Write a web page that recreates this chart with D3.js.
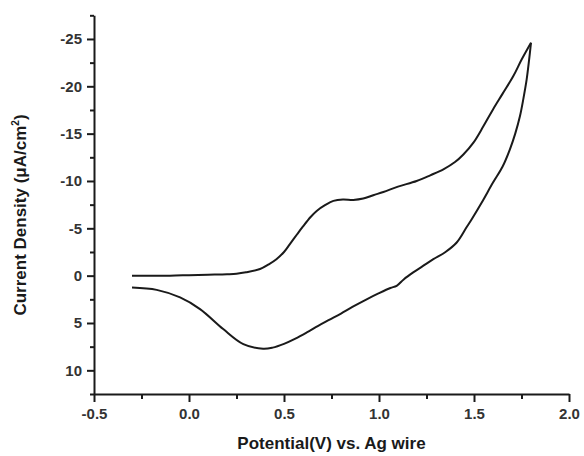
<!DOCTYPE html>
<html>
<head>
<meta charset="utf-8">
<script src="https://cdn.jsdelivr.net/npm/d3@7"></script>
<style>
  html, body { margin: 0; padding: 0; background: #fff; }
  svg { display: block; }
  text { font-family: "Liberation Sans", Arial, sans-serif; font-weight: bold; }
</style>
</head>
<body>
<svg id="chart" width="584" height="456"></svg>
<script>
// Cyclic voltammogram: potential (V vs. Ag wire) and current density (µA/cm²)
const forwardPotential = [-0.30, -0.20, -0.10, 0.00, 0.10, 0.20, 0.25, 0.30, 0.374, 0.42, 0.46, 0.50, 0.53, 0.57, 0.60, 0.64, 0.672, 0.72, 0.76, 0.81, 0.865, 0.917, 0.97, 1.023, 1.10, 1.198, 1.27, 1.339, 1.40, 1.444, 1.497, 1.55, 1.60, 1.65, 1.707, 1.75, 1.80];
const forwardCurrent   = [0.0, 0.0, 0.0, -0.05, -0.1, -0.15, -0.2, -0.35, -0.7, -1.2, -1.74, -2.5, -3.3, -4.4, -5.2, -6.2, -6.84, -7.5, -7.9, -8.05, -8.0, -8.14, -8.5, -8.84, -9.4, -10.0, -10.6, -11.23, -12.0, -12.8, -14.05, -15.8, -17.56, -19.2, -21.08, -22.8, -24.6];

const reversePotential = [1.80, 1.79, 1.777, 1.76, 1.742, 1.717, 1.689, 1.65, 1.60, 1.54, 1.488, 1.46, 1.409, 1.35, 1.286, 1.23, 1.18, 1.13, 1.093, 1.06, 1.00, 0.93, 0.86, 0.80, 0.74, 0.68, 0.62, 0.56, 0.50, 0.44, 0.39, 0.286, 0.18, 0.058, -0.047, -0.17, -0.30];
const reverseCurrent   = [-24.6, -22.8, -20.7, -18.7, -16.86, -15.0, -13.34, -11.5, -9.83, -7.7, -5.96, -5.08, -3.5, -2.5, -1.74, -1.0, -0.34, 0.4, 1.07, 1.3, 1.85, 2.55, 3.3, 4.0, 4.65, 5.3, 6.0, 6.65, 7.2, 7.6, 7.72, 7.23, 5.64, 3.53, 2.3, 1.5, 1.25];

const xTicks = [-0.5, 0.0, 0.5, 1.0, 1.5, 2.0];
const xMinorTicks = [-0.25, 0.25, 0.75, 1.25, 1.75];
const yTicks = [-25, -20, -15, -10, -5, 0, 5, 10];
const yMinorTicks = [-27.5, -22.5, -17.5, -12.5, -7.5, -2.5, 2.5, 7.5, 12.5];

const svg = d3.select("#chart");
const plotLeft = 94, plotRight = 569, plotTop = 15.3, plotBottom = 394;

const x = d3.scaleLinear().domain([-0.5, 2.0]).range([plotLeft, plotRight]);
// current axis runs negative-up
const y = d3.scaleLinear().domain([-27.5, 12.5]).range([plotTop, plotBottom]);

const axisColor = "#1a1a1a";
// plain hyphen-minus for negative tick labels
const fmtX = d => d3.format(".1f")(d).replace("\u2212", "-");
const fmtY = d => d3.format("d")(d).replace("\u2212", "-");

// x axis
svg.append("g").attr("transform", `translate(0,${plotBottom})`)
  .call(d3.axisBottom(x).tickValues(xTicks).tickFormat(fmtX).tickSizeInner(8).tickSizeOuter(0).tickPadding(6));
svg.append("g").attr("transform", `translate(0,${plotBottom})`)
  .call(d3.axisBottom(x).tickValues(xMinorTicks).tickFormat("").tickSizeInner(5).tickSizeOuter(0))
  .call(g => g.select(".domain").remove());

// y axis
svg.append("g").attr("transform", `translate(${plotLeft},0)`)
  .call(d3.axisLeft(y).tickValues(yTicks).tickFormat(fmtY).tickSizeInner(7).tickSizeOuter(0).tickPadding(5));
svg.append("g").attr("transform", `translate(${plotLeft},0)`)
  .call(d3.axisLeft(y).tickValues(yMinorTicks).tickFormat("").tickSizeInner(4).tickSizeOuter(0))
  .call(g => g.select(".domain").remove());

svg.selectAll(".domain").attr("stroke", axisColor).attr("stroke-width", 2);
svg.selectAll(".tick line").attr("stroke", axisColor).attr("stroke-width", 2);
svg.selectAll(".tick text").attr("fill", "#333").style("font-size", "15px")
  .style("font-family", "'Liberation Sans', Arial, sans-serif").style("font-weight", "bold");

// CV loop
const line = d3.line().x(d => x(d[0])).y(d => y(d[1])).curve(d3.curveCatmullRom.alpha(0.5));
const fwd = forwardPotential.map((v, i) => [v, forwardCurrent[i]]);
const rev = reversePotential.map((v, i) => [v, reverseCurrent[i]]);

svg.append("path").datum(fwd).attr("d", line)
  .attr("fill", "none").attr("stroke", "#1a1a1a").attr("stroke-width", 2).attr("stroke-linejoin", "round");
svg.append("path").datum(rev).attr("d", line)
  .attr("fill", "none").attr("stroke", "#1a1a1a").attr("stroke-width", 2).attr("stroke-linejoin", "round");

// axis titles
svg.append("text")
  .attr("x", (plotLeft + plotRight) / 2).attr("y", 449)
  .attr("text-anchor", "middle").attr("fill", "#1a1a1a")
  .style("font-size", "17px")
  .text("Potential(V) vs. Ag wire");

const yTitle = svg.append("text")
  .attr("transform", `translate(26,215) rotate(-90)`)
  .attr("text-anchor", "middle").attr("fill", "#1a1a1a")
  .style("font-size", "17px");
yTitle.append("tspan").text("Current Density (μA/cm");
yTitle.append("tspan").attr("dy", -7).style("font-size", "10px").text("2");
yTitle.append("tspan").attr("dy", 7).text(")");
</script>
</body>
</html>
